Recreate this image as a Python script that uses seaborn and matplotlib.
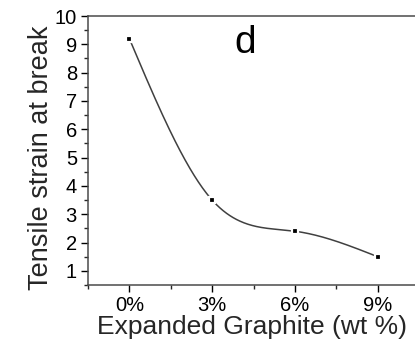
import numpy as np
import pandas as pd
import matplotlib
matplotlib.use("Agg")
import matplotlib.pyplot as plt
from matplotlib.ticker import FixedLocator, MultipleLocator
import seaborn as sns

# Expanded graphite loading (wt %) and tensile strain at break
loading_wt = [0, 3, 6, 9]
loading_labels = ["0%", "3%", "6%", "9%"]
strain_at_break = [9.2, 3.5, 2.4, 1.5]
y_ticks = [1, 2, 3, 4, 5, 6, 7, 8, 9, 10]


def natural_cubic_spline(x, y, num=300):
    """Smooth curve through the measured points (natural cubic spline)."""
    x = np.asarray(x, float)
    y = np.asarray(y, float)
    n = len(x)
    h = np.diff(x)
    A = np.zeros((n, n))
    b = np.zeros(n)
    A[0, 0] = A[-1, -1] = 1.0
    for i in range(1, n - 1):
        A[i, i - 1] = h[i - 1]
        A[i, i] = 2 * (h[i - 1] + h[i])
        A[i, i + 1] = h[i]
        b[i] = 6 * ((y[i + 1] - y[i]) / h[i] - (y[i] - y[i - 1]) / h[i - 1])
    M = np.linalg.solve(A, b)
    t = np.linspace(x[0], x[-1], num)
    seg = np.clip(np.searchsorted(x, t) - 1, 0, n - 2)
    xi, xj = x[seg], x[seg + 1]
    hi = h[seg]
    s = (M[seg] * (xj - t) ** 3 / (6 * hi)
         + M[seg + 1] * (t - xi) ** 3 / (6 * hi)
         + (y[seg] / hi - M[seg] * hi / 6) * (xj - t)
         + (y[seg + 1] / hi - M[seg + 1] * hi / 6) * (t - xi))
    return t, s


points = pd.DataFrame({"loading": loading_wt, "strain": strain_at_break})
xs, ys = natural_cubic_spline(loading_wt, strain_at_break)
curve = pd.DataFrame({"loading": xs, "strain": ys})

sns.set_style("ticks")
plt.rcParams["font.family"] = ["Liberation Sans", "DejaVu Sans"]

fig = plt.figure(figsize=(4.15, 3.44), dpi=100)
ax = fig.add_axes([88 / 415, 59 / 344, 331 / 415, 269 / 344])

sns.lineplot(data=curve, x="loading", y="strain", ax=ax, color="#404040",
             linewidth=1.1, sort=False, legend=False)
ax.plot(points["loading"], points["strain"], linestyle="none", marker="s",
        markersize=6.5 * 0.72, markerfacecolor="black",
        markeredgecolor="white", markeredgewidth=2.2 * 0.72, zorder=5,
        clip_on=False)

ax.set_xlim(-1.5, 10.5)
ax.set_ylim(0.5, 10)
ax.xaxis.set_major_locator(FixedLocator(loading_wt))
ax.set_xticklabels(loading_labels)
ax.xaxis.set_minor_locator(MultipleLocator(1.5))
ax.yaxis.set_major_locator(FixedLocator(y_ticks))
ax.yaxis.set_minor_locator(MultipleLocator(0.5))

ax.tick_params(which="major", direction="out", length=5, width=1.0,
               labelsize=14.5, colors="black", pad=3)
ax.tick_params(which="minor", direction="out", length=3, width=1.0)
ax.tick_params(axis="x", which="both", top=False)
ax.tick_params(axis="y", which="both", right=False)

for side in ("left", "bottom", "top", "right"):
    ax.spines[side].set_color("#4a4a4a")
    ax.spines[side].set_linewidth(1.1)

ax.set_xlabel("Expanded Graphite (wt %)", fontsize=19)
ax.set_ylabel("Tensile strain at break", fontsize=19.5)
ax.xaxis.set_label_coords(0.494, -0.113)
ax.yaxis.set_label_coords(-0.103, 0.474)

ax.text(245 / 415, 1 - 43 / 344, "d", transform=fig.transFigure,
        fontsize=28, ha="center", va="center", color="black")

fig.savefig("out.png", dpi=100, facecolor="white")
